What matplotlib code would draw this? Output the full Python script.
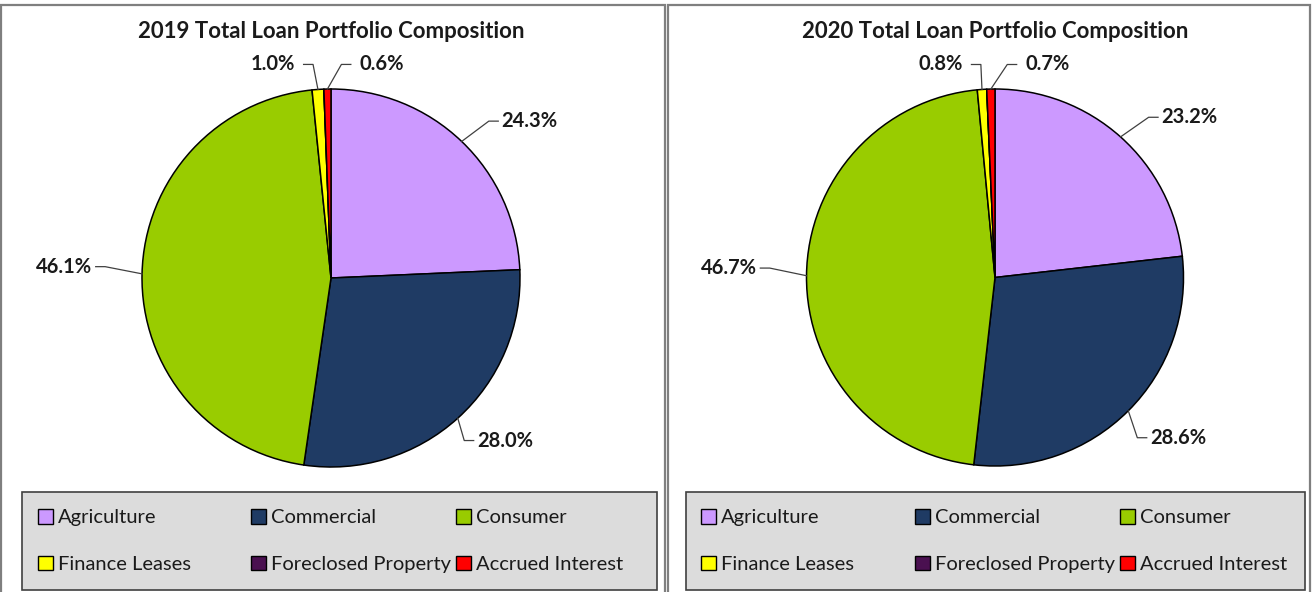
import numpy as np
import matplotlib

matplotlib.use("Agg")
import matplotlib.pyplot as plt
from matplotlib.patches import Patch, Rectangle

plt.rcParams["font.family"] = ["Lato", "DejaVu Sans"]

CATEGORIES = ["Agriculture", "Commercial", "Consumer", "Finance Leases",
              "Foreclosed Property", "Accrued Interest"]
SHARE_2019 = [24.3, 28.0, 46.1, 1.0, 0.0, 0.6]
SHARE_2020 = [23.2, 28.6, 46.7, 0.8, 0.0, 0.7]
TITLES = ["2019 Total Loan Portfolio Composition", "2020 Total Loan Portfolio Composition"]

COLORS = ["#cc99ff", "#1f3b64", "#99cc00", "#ffff00", "#4a1050", "#ff0000"]

# label text positions (in pie-radius units), one list per panel; None = no label
LABEL_POS = [
    [(1.05, 0.83), (0.92, -0.86), (-1.41, 0.06), (-0.31, 1.13), None, (0.27, 1.13)],
    [(1.03, 0.85), (0.97, -0.85), (-1.41, 0.05), (-0.29, 1.13), None, (0.28, 1.13)],
]

W, H = 1312, 592
fig = plt.figure(figsize=(W / 100, H / 100), dpi=100)


def px(x, y, w, h):
    # pixel box (top-left origin) -> figure fraction
    return [x / W, 1 - (y + h) / H, w / W, h / H]


def draw_panel(values, title, label_pos, x0, x1, cx, cy, r):
    # panel frame
    fig.add_artist(Rectangle((x0 / W, -0.01), (x1 - x0) / W, 1 - 5 / H + 0.01,
                             transform=fig.transFigure, fill=False,
                             edgecolor="#7f7f7f", lw=1.6))
    fig.text(cx / W, 1 - 32 / H, title, ha="center", va="center",
             fontsize=16, fontweight="bold", color="#1a1a1a")

    ax = fig.add_axes(px(cx - r, cy - r, 2 * r, 2 * r))
    ax.pie(values, colors=COLORS, startangle=90, counterclock=False,
           wedgeprops=dict(edgecolor="black", linewidth=1.1))
    ax.set_xlim(-1, 1)
    ax.set_ylim(-1, 1)
    ax.set_aspect("equal")
    ax.axis("off")

    vals = np.asarray(values, float)
    ends = np.cumsum(vals)
    mids = 90 - 360 * (ends - vals / 2) / vals.sum()
    for v, m, pos in zip(vals, mids, label_pos):
        if pos is None:
            continue
        ex, ey = np.cos(np.radians(m)), np.sin(np.radians(m))
        tx, ty = pos
        half = 0.165  # approx half text width in radius units
        side = -1 if tx > ex else 1
        anchor = tx + side * half
        elbow = anchor + side * 0.05
        ax.plot([ex, elbow, anchor], [ey, ty, ty], color="#404040", lw=0.9, clip_on=False)
        ax.text(tx, ty, f"{v:.1f}%", ha="center", va="center", fontsize=14.5,
                fontweight="bold", color="#1a1a1a", clip_on=False)


draw_panel(SHARE_2019, TITLES[0], LABEL_POS[0], 1, 665, 331, 278, 189)
draw_panel(SHARE_2020, TITLES[1], LABEL_POS[1], 668, 1310, 995, 277.5, 188.5)

# legends: grey box, three columns of two entries (row-wise reading order)
for bx, bw, col_x in [(22, 635, (24, 237, 442)), (686, 619, (687, 901, 1106))]:
    fig.add_artist(Rectangle((bx / W, 1 - 590 / H), bw / W, 98 / H,
                             transform=fig.transFigure, facecolor="#dcdcdc",
                             edgecolor="#404040", lw=1.2))
    for c, x in enumerate(col_x):
        handles = [Patch(facecolor=COLORS[i], edgecolor="black", lw=1.0, label=CATEGORIES[i])
                   for i in (c, c + 3)]
        fig.legend(handles=handles, loc="center left",
                   bbox_to_anchor=(x / W, 1 - 541 / H), frameon=False,
                   fontsize=14.5, handlelength=0.75, handleheight=0.75, handletextpad=0.25,
                   labelspacing=1.45, labelcolor="#1a1a1a", borderpad=0.2)

fig.savefig("out.png", dpi=100, facecolor="white")
